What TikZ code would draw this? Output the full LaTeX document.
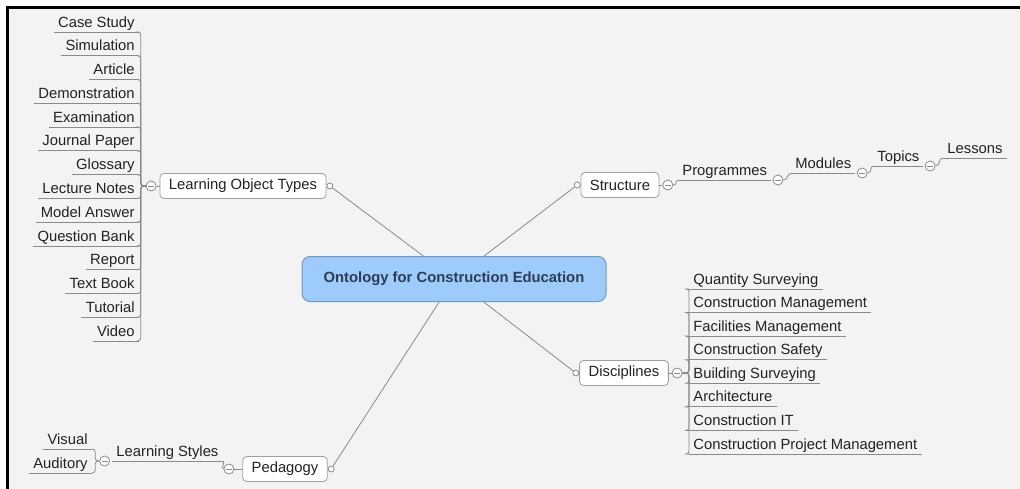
\documentclass[tikz,border=0pt]{standalone}
\usepackage{fontspec}
\setmainfont{Liberation Sans}
\usetikzlibrary{positioning}
\definecolor{bgmap}{HTML}{F3F3F3}
\definecolor{rootfill}{HTML}{9DCCFA}
\definecolor{rootline}{HTML}{7199C6}
\definecolor{roottext}{HTML}{2E3D55}
\definecolor{mapline}{HTML}{8A8A8A}
\definecolor{boxline}{HTML}{A0A0A0}
\definecolor{maptext}{HTML}{222222}

\begin{document}
\begin{tikzpicture}[x=1pt,y=-1pt,line width=0.8pt,
  every node/.style={font=\fontsize{14.8}{17}\selectfont,text=maptext},
  root/.style={draw=rootline,fill=rootfill,rounded corners=8pt,minimum width=304pt,minimum height=45pt,
    font=\fontsize{14.8}{17}\selectfont\bfseries,text=roottext,line width=1pt},
  topic/.style={draw=boxline,fill=white,rounded corners=4pt,minimum height=25pt,inner xsep=9pt},
  leaf/.style={inner xsep=4pt,inner ysep=1pt,text height=10.5pt,text depth=3.5pt},
  fold/.style={circle,draw=mapline,fill=white,minimum size=10pt,inner sep=0pt,
    path picture={\draw[mapline] ([xshift=-3pt]path picture bounding box.center) -- ([xshift=3pt]path picture bounding box.center);}},
  joint/.style={circle,draw=mapline,fill=white,minimum size=6pt,inner sep=0pt},
  link/.style={draw=mapline,rounded corners=3pt}]
  \useasboundingbox (0,0) rectangle (1020,489);
  \fill[white] (0,0) rectangle (1020,489);
  \fill[bgmap] (8,8) rectangle (1020,489);
  \fill[black] (6,6) rectangle (9,489);
  \fill[black] (6,6) rectangle (1020,9);
  % centre and main topics
  \node[root] (onto) at (454,279) {Ontology for Construction Education};
  \node[topic] (lot) at (243,186) {Learning Object Types};
  \node[topic] (struct) at (620,185) {Structure};
  \node[topic] (disc) at (624,373) {Disciplines};
  \node[topic] (peda) at (285,469) {Pedagogy};
  \node[joint, right=0pt of lot] (jlot) {};
  \node[joint, left=0pt of struct] (jstruct) {};
  \node[joint, left=0pt of disc] (jdisc) {};
  \node[joint, right=0pt of peda] (jpeda) {};
  \draw[mapline] (onto) -- (jlot);
  \draw[mapline] (onto) -- (jstruct);
  \draw[mapline] (onto) -- (jdisc);
  \draw[mapline] (onto) -- (jpeda);
  \node[fold, left=3pt of lot] (flot) {};
  \node[fold, right=3pt of struct] (fstruct) {};
  \node[fold, right=3pt of disc] (fdisc) {};
  \node[fold, left=8pt of peda] (fpeda) {};
  \draw[mapline] (flot) -- (lot);
  \draw[mapline] (fstruct) -- (struct);
  \draw[mapline] (fdisc) -- (disc);
  \draw[mapline] (fpeda) -- (peda);
  % learning object types
  \foreach \name [count=\i from 0] in {Case Study,Simulation,Article,Demonstration,Examination,
      Journal Paper,Glossary,Lecture Notes,Model Answer,Question Bank,Report,Text Book,Tutorial,Video} {
    \node[leaf, anchor=south east] (lo\i) at (139,{32+23.77*\i}) {\name};
    \draw[mapline] (lo\i.south west) -- (lo\i.south east);
    \draw[link] (flot.west) -- ++(-5,0) |- (lo\i.south east);
  }
  % disciplines
  \foreach \name [count=\i from 0] in {Quantity Surveying,Construction Management,Facilities Management,
      Construction Safety,Building Surveying,Architecture,Construction IT,Construction Project Management} {
    \node[leaf, anchor=south west] (di\i) at (689,{289+23.57*\i}) {\name};
    \draw[mapline] (di\i.south west) -- (di\i.south east);
    \draw[link] (fdisc.east) -- ++(6.5,0) |- (di\i.south west);
  }
  % structure chain
  \node[leaf, anchor=south west, inner xsep=3pt] (prog) at (679,180) {Programmes};
  \node[fold, anchor=west] (fprog) at ([xshift=2pt]prog.south east) {};
  \node[leaf, anchor=south west, inner xsep=3pt] (modu) at (792,173) {Modules};
  \node[fold, anchor=west] (fmodu) at ([xshift=2pt]modu.south east) {};
  \node[leaf, anchor=south west, inner xsep=3pt] (topi) at (874,166) {Topics};
  \node[fold, anchor=west] (ftopi) at ([xshift=2pt]topi.south east) {};
  \node[leaf, anchor=south west, inner xsep=4pt] (less) at (943,158) {Lessons};
  \foreach \n in {prog,modu,topi,less}
    \draw[mapline] (\n.south west) -- (\n.south east);
  \draw[mapline] (fstruct.east) .. controls +(5,0) and +(-5,0) .. (prog.south west);
  \draw[mapline] (fprog.east) .. controls +(5,0) and +(-5,0) .. (modu.south west);
  \draw[mapline] (fmodu.east) .. controls +(5,0) and +(-5,0) .. (topi.south west);
  \draw[mapline] (ftopi.east) .. controls +(5,0) and +(-5,0) .. (less.south west);
  % pedagogy
  \node[leaf, anchor=south west] (lsty) at (112,461) {Learning Styles};
  \draw[mapline] (lsty.south west) -- (lsty.south east);
  \draw[mapline] (fpeda.west) .. controls +(-3,0) and +(3,0) .. (lsty.south east);
  \node[fold, anchor=east] (flsty) at ([xshift=-2pt]lsty.south west) {};
  \node[leaf, anchor=south east] (visu) at (92,449) {Visual};
  \node[leaf, anchor=south east] (audi) at (92,473) {Auditory};
  \foreach \n in {visu,audi} {
    \draw[mapline] (\n.south west) -- (\n.south east);
    \draw[link] (flsty.west) -- ++(-4,0) |- (\n.south east);
  }
\end{tikzpicture}
\end{document}
